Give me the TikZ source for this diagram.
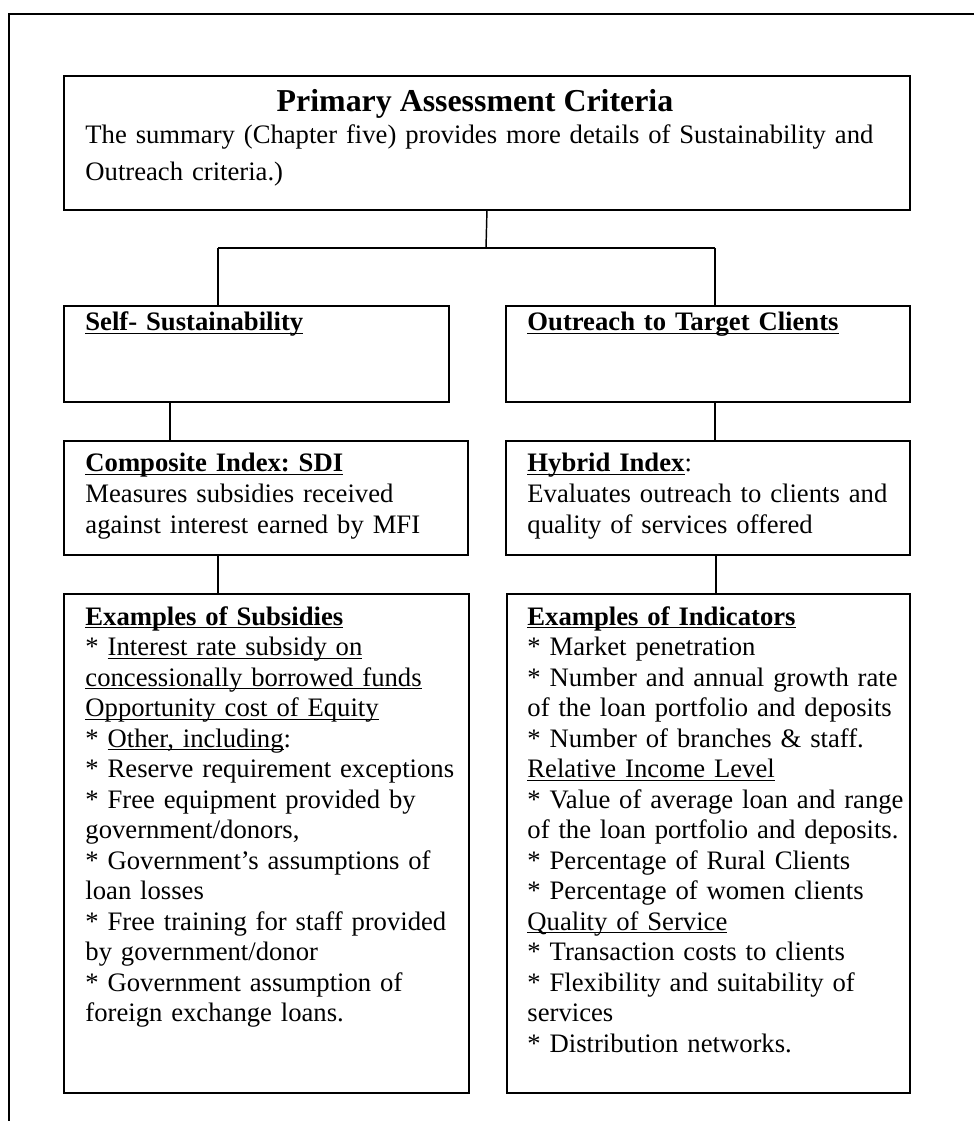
\documentclass[tikz,border=0pt]{standalone}
\usepackage{fontspec}
\setmainfont{Liberation Serif}
\usepackage{tikz}
\usepackage{xcolor}
\frenchspacing

\newdimen\px \px=0.48pt
\newsavebox\ulbox
\newcommand{\ulin}[1]{\leavevmode\sbox\ulbox{#1}\rlap{\rule[-1.6pt]{\wd\ulbox}{0.6pt}}\usebox\ulbox}

\tikzset{
  box/.style={draw, line width=0.9pt, inner sep=0pt, anchor=north west},
  link/.style={line width=0.7pt},
  txt/.style={anchor=base west, align=left, inner sep=0pt, text width=385\px,
    font=\fontsize{12.8}{14.64}\selectfont},
}

\begin{document}
\begin{tikzpicture}[x=0.48pt, y=-0.48pt]
\useasboundingbox (0,0) rectangle (974,1121);

% page frame
\draw[line width=0.9pt] (974,14) -- (9,14) -- (9,1121);

% boxes
\node[box, minimum width=846\px, minimum height=134\px] (crit) at (63,75) {};
\node[box, minimum width=385\px, minimum height=96\px] (sus) at (63,305) {};
\node[box, minimum width=404\px, minimum height=96\px] (out) at (505,305) {};
\node[box, minimum width=404\px, minimum height=114\px] (sdi) at (63,440) {};
\node[box, minimum width=404\px, minimum height=114\px] (hyb) at (505,440) {};
\node[box, minimum width=405\px, minimum height=499\px] (subs) at (63,593) {};
\node[box, minimum width=403\px, minimum height=499\px] (ind) at (506,593) {};

% texts
\node[anchor=base, inner sep=0pt, font=\fontsize{15.3}{18}\selectfont\bfseries] (critT) at (475,112) {Primary Assessment Criteria};
\node[txt, text width=815\px] (critB) at (85,144) {The summary (Chapter five) provides more details of Sustainability and\\[3pt]
Outreach criteria.)};

\node[txt] (susT) at (85,331) {\ulin{\textbf{Self- Sustainability}}};
\node[txt] (outT) at (527,331) {\ulin{\textbf{Outreach to Target Clients}}};

\node[txt] (sdiT) at (85,472) {\ulin{\textbf{Composite Index: SDI}}\\
Measures subsidies received\\
against interest earned by MFI};
\node[txt] (hybT) at (527,472) {\ulin{\textbf{Hybrid Index}}:\\
Evaluates outreach to clients and\\
quality of services offered};

\node[txt] (subsT) at (85,625) {\ulin{\textbf{Examples of Subsidies}}\\
{*} \ulin{Interest rate subsidy on}\\
\ulin{concessionally borrowed funds}\\
\ulin{Opportunity cost of Equity}\\
{*} \ulin{Other, including}:\\
{*} Reserve requirement exceptions\\
{*} Free equipment provided by\\
government/donors,\\
{*} Government’s assumptions of\\
loan losses\\
{*} Free training for staff provided\\
by government/donor\\
{*} Government assumption of\\
foreign exchange loans.};
\node[txt] (indT) at (527,625) {\ulin{\textbf{Examples of Indicators}}\\
{*} Market penetration\\
{*} Number and annual growth rate\\
of the loan portfolio and deposits\\
{*} Number of branches \& staff.\\
\ulin{Relative Income Level}\\
{*} Value of average loan and range\\
of the loan portfolio and deposits.\\
{*} Percentage of Rural Clients\\
{*} Percentage of women clients\\
\ulin{Quality of Service}\\
{*} Transaction costs to clients\\
{*} Flexibility and suitability of\\
services\\
{*} Distribution networks.};

% connectors
\coordinate (fork) at (486,248);
\coordinate (forkL) at (218,248);
\coordinate (forkR) at (715,248);
\draw[link] (crit.south) -- (fork);
\draw[link] (forkL) -- (forkR);
\draw[link] (forkL) -- (forkL |- sus.north);
\draw[link] (forkR) -- (forkR |- out.north);
\draw[link] ([xshift=107\px]sus.south west) -- ([xshift=107\px]sdi.north west);
\draw[link] ([xshift=210\px]out.south west) -- ([xshift=210\px]hyb.north west);
\draw[link] ([xshift=155\px]sdi.south west) -- ([xshift=155\px]subs.north west);
\draw[link] ([xshift=211\px]hyb.south west) -- ([xshift=210\px]ind.north west);
\end{tikzpicture}
\end{document}
